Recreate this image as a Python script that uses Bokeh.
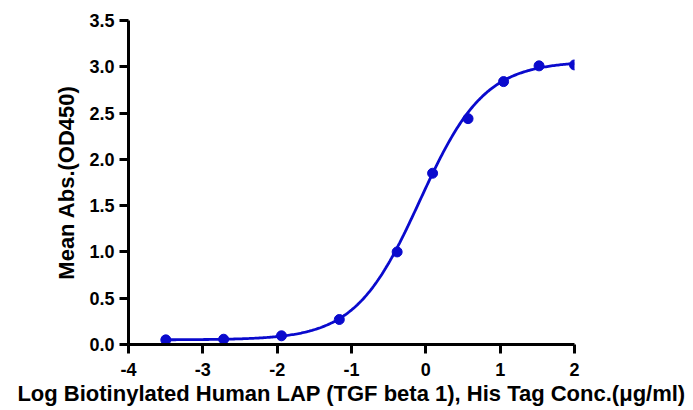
import numpy as np
from bokeh.plotting import figure
from bokeh.models import FixedTicker, Range1d, CustomJSTickFormatter
from bokeh.embed import file_html
from bokeh.resources import INLINE

# Data (log10 concentration, ug/ml) and mean absorbance
log_conc = [-3.498, -2.720, -1.942, -1.164, -0.386, 0.091, 0.568, 1.046, 1.523, 2.000]
mean_abs = [0.05, 0.057, 0.094, 0.27, 1.00, 1.85, 2.44, 2.84, 3.01, 3.02]

# 4PL fit parameters (estimated)
bottom, top, log_ec50, hill = 0.05, 3.06, -0.08, 1.0

x_ticks = [-4, -3, -2, -1, 0, 1, 2]
y_ticks = [0.0, 0.5, 1.0, 1.5, 2.0, 2.5, 3.0, 3.5]

xf = np.linspace(min(log_conc), max(log_conc), 300)
yf = bottom + (top - bottom) / (1 + 10 ** ((log_ec50 - xf) * hill))

FONT = "Liberation Sans"
BLUE = "#0a0acd"

W, H = 693, 410
p = figure(width=W, height=H, output_backend="svg", toolbar_location=None,
           x_range=Range1d(-4, 2), y_range=Range1d(0, 3.5),
           min_border_left=128, min_border_right=W - 574, min_border_top=20,
           min_border_bottom=H - 344)
p.outline_line_color = None
p.grid.visible = False
p.background_fill_color = "white"
p.border_fill_color = "white"

p.line(xf, yf, line_color=BLUE, line_width=2.8)
p.scatter(log_conc, mean_abs, size=10, fill_color=BLUE, line_color=BLUE)

for ax in (p.xaxis[0], p.yaxis[0]):
    ax.axis_line_width = 3
    ax.axis_line_color = "black"
    ax.major_tick_line_width = 3
    ax.major_tick_line_color = "black"
    ax.major_tick_out = 9
    ax.major_tick_in = 0
    ax.minor_tick_line_color = None
    ax.major_label_text_font = FONT
    ax.major_label_text_font_style = "bold"
    ax.major_label_text_font_size = "18px"
    ax.major_label_text_color = "black"
    ax.axis_label_text_font = FONT
    ax.axis_label_text_font_style = "bold"
    ax.axis_label_text_color = "black"
    ax.axis_label_text_font_size = "22px"

p.xaxis.ticker = FixedTicker(ticks=x_ticks)
p.yaxis.ticker = FixedTicker(ticks=y_ticks)
p.xaxis.formatter = CustomJSTickFormatter(code="return tick.toFixed(0);")
p.yaxis.formatter = CustomJSTickFormatter(code="return tick.toFixed(1);")
p.xaxis.major_label_standoff = 9
p.yaxis.major_label_standoff = 5
p.xaxis.axis_label = "Log Biotinylated Human LAP (TGF beta 1), His Tag Conc.(\u03bcg/ml)"
p.yaxis.axis_label = "Mean Abs.(OD450)"
p.xaxis.axis_label_standoff = 2
p.yaxis.axis_label_standoff = 7

open("out.html", "w").write(file_html(p, INLINE))
